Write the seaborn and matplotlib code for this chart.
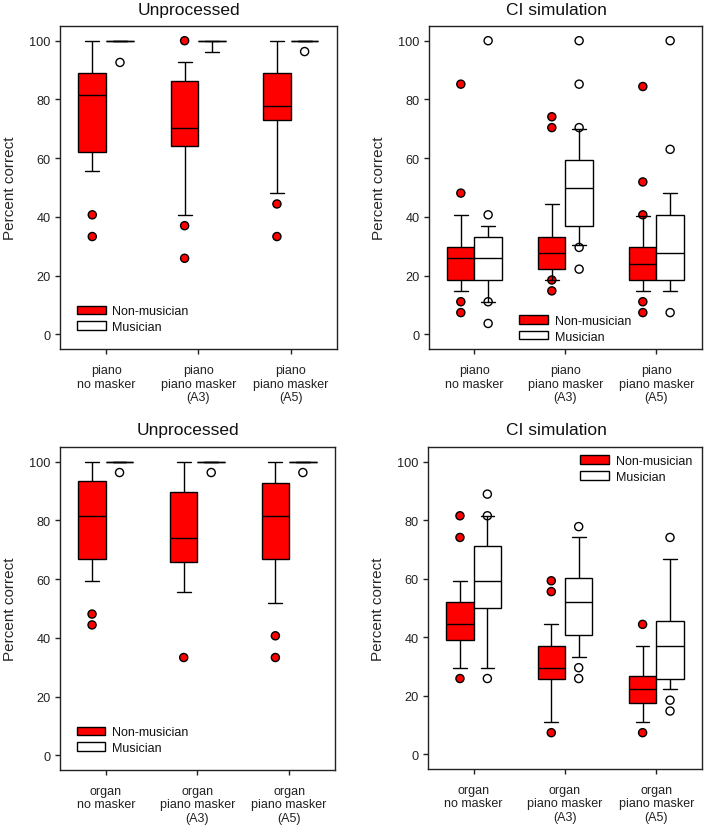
import numpy as np
import pandas as pd
import matplotlib
matplotlib.use("Agg")
import matplotlib.pyplot as plt
from matplotlib.patches import Patch
import seaborn as sns

# ---------------- data ----------------
groups = ["Non-musician", "Musician"]
piano_conditions = ["piano\nno masker", "piano\npiano masker\n(A3)", "piano\npiano masker\n(A5)"]
organ_conditions = ["organ\nno masker", "organ\npiano masker\n(A3)", "organ\npiano masker\n(A5)"]
panel_titles = ["Unprocessed", "CI simulation", "Unprocessed", "CI simulation"]
y_ticks = [0, 20, 40, 60, 80, 100]

# box summaries per condition: [whisker low, Q1, median, Q3, whisker high]
piano_unproc_nm = [[55.6, 62.0, 81.5, 88.9, 100.0],
                   [40.7, 64.0, 70.4, 86.3, 92.6],
                   [48.1, 73.1, 77.8, 88.9, 100.0]]
piano_unproc_m = [[100.0, 100.0, 100.0, 100.0, 100.0],
                  [96.3, 100.0, 100.0, 100.0, 100.0],
                  [100.0, 100.0, 100.0, 100.0, 100.0]]
piano_unproc_nm_out = [[40.7, 33.3], [100.0, 37.0, 25.9], [44.4, 33.3]]
piano_unproc_m_out = [[92.6], [], [96.3]]

piano_ci_nm = [[14.8, 18.5, 25.9, 29.6, 40.7],
               [18.5, 22.2, 27.8, 33.3, 44.4],
               [14.8, 18.5, 24.1, 29.6, 40.3]]
piano_ci_m = [[11.1, 18.5, 25.9, 33.3, 37.0],
              [30.4, 37.0, 50.0, 59.3, 70.0],
              [14.8, 18.5, 27.8, 40.7, 48.1]]
piano_ci_nm_out = [[85.2, 48.1, 11.1, 7.4], [74.1, 70.4, 18.5, 14.8], [84.4, 51.9, 40.7, 11.1, 7.4]]
piano_ci_m_out = [[100.0, 40.7, 11.1, 3.7], [100.0, 85.2, 70.4, 29.6, 22.2], [100.0, 63.0, 7.4]]

organ_unproc_nm = [[59.3, 66.7, 81.5, 93.5, 100.0],
                   [55.6, 65.7, 74.1, 89.8, 100.0],
                   [51.9, 66.7, 81.5, 92.6, 100.0]]
organ_unproc_m = [[100.0, 100.0, 100.0, 100.0, 100.0],
                  [100.0, 100.0, 100.0, 100.0, 100.0],
                  [100.0, 100.0, 100.0, 100.0, 100.0]]
organ_unproc_nm_out = [[48.1, 44.4], [33.3], [40.7, 33.3]]
organ_unproc_m_out = [[96.3], [96.3], [96.3]]

organ_ci_nm = [[29.6, 38.9, 44.4, 51.9, 59.3],
               [11.1, 25.9, 29.6, 37.0, 44.4],
               [11.1, 17.6, 22.2, 26.9, 37.0]]
organ_ci_m = [[29.6, 50.0, 59.3, 71.1, 81.5],
              [33.3, 40.7, 51.9, 60.2, 74.1],
              [22.2, 25.9, 37.0, 45.4, 66.7]]
organ_ci_nm_out = [[81.5, 74.1, 25.9], [59.3, 55.6, 7.4], [44.4, 7.4]]
organ_ci_m_out = [[88.9, 81.5, 25.9], [77.8, 29.6, 25.9], [74.1, 18.5, 14.8]]

# ---------------- style ----------------
sns.set_style("ticks")
plt.rcParams["font.family"] = ["Liberation Sans", "DejaVu Sans"]
plt.rcParams["axes.linewidth"] = 1.0
plt.rcParams["axes.edgecolor"] = "#222222"
plt.rcParams["xtick.major.size"] = 3.6
plt.rcParams["ytick.major.size"] = 3.6
plt.rcParams["xtick.major.width"] = 1.0
plt.rcParams["ytick.major.width"] = 1.0
plt.rcParams["xtick.color"] = "#222222"
plt.rcParams["ytick.color"] = "#222222"
plt.rcParams["text.color"] = "#111111"

palette = {"Non-musician": "#ff0000", "Musician": "#ffffff"}
dodge_offset = {"Non-musician": -0.15, "Musician": 0.15}


def box_frame(nm_box, m_box):
    rows = []
    for i in range(len(nm_box)):
        for g, box in zip(groups, [nm_box, m_box]):
            for v in box[i]:
                rows.append({"pos": i, "group": g, "value": v})
    return pd.DataFrame(rows)


def out_frame(nm_out, m_out):
    rows = []
    for i in range(len(nm_out)):
        for g, outs in zip(groups, [nm_out, m_out]):
            for v in outs[i]:
                rows.append({"xpos": i + dodge_offset[g], "group": g, "value": v})
    return pd.DataFrame(rows)


def draw_panel(ax, conditions, nm_box, m_box, nm_out, m_out, title, loc, anchor):
    bdf = box_frame(nm_box, m_box)
    sns.boxplot(data=bdf, x="pos", y="value", hue="group", hue_order=groups,
                palette=palette, native_scale=True, orient="x", width=0.6, gap=0,
                dodge=True, whis=(0, 100), showfliers=False, saturation=1,
                linecolor="black", linewidth=1.0, legend=False, ax=ax)
    odf = out_frame(nm_out, m_out)
    sns.scatterplot(data=odf, x="xpos", y="value", hue="group", hue_order=groups,
                    palette=palette, s=34, edgecolor="black", linewidth=1.0,
                    legend=False, ax=ax, zorder=1.5)
    ax.set_xlim(-0.5, 2.5)
    ax.set_ylim(-5, 105)
    ax.set_xticks(range(len(conditions)))
    ax.set_xticklabels(conditions, fontsize=9, linespacing=1.2)
    ax.set_yticks(y_ticks)
    ax.set_yticklabels([str(t) for t in y_ticks], fontsize=9.2)
    ax.tick_params(axis="x", pad=7)
    ax.tick_params(axis="y", pad=3)
    ax.set_xlabel("")
    ax.set_ylabel("Percent correct", fontsize=11, labelpad=9)
    ax.set_title(title, fontsize=12.5, x=0.467, pad=9)
    for sp in ax.spines.values():
        sp.set_visible(True)
    handles = [Patch(facecolor=palette[g], edgecolor="black", linewidth=1.0, label=g) for g in groups]
    ax.legend(handles=handles, loc=loc, bbox_to_anchor=anchor, frameon=False,
              fontsize=9, borderpad=0, borderaxespad=0, handlelength=2.3,
              handleheight=0.65, handletextpad=0.55, labelspacing=0.3)


fig = plt.figure(figsize=(7.08, 8.29), dpi=100)
ax_tl = fig.add_axes([0.0847, 0.5778, 0.3912, 0.3896])
ax_tr = fig.add_axes([0.6059, 0.5778, 0.3856, 0.3896])
ax_bl = fig.add_axes([0.0847, 0.0700, 0.3884, 0.3896])
ax_br = fig.add_axes([0.6045, 0.0712, 0.3870, 0.3884])

draw_panel(ax_tl, piano_conditions, piano_unproc_nm, piano_unproc_m,
           piano_unproc_nm_out, piano_unproc_m_out, panel_titles[0], "lower left", (0.061, 0.05))
draw_panel(ax_tr, piano_conditions, piano_ci_nm, piano_ci_m,
           piano_ci_nm_out, piano_ci_m_out, panel_titles[1], "lower left", (0.33, 0.02))
draw_panel(ax_bl, organ_conditions, organ_unproc_nm, organ_unproc_m,
           organ_unproc_nm_out, organ_unproc_m_out, panel_titles[2], "lower left", (0.061, 0.05))
draw_panel(ax_br, organ_conditions, organ_ci_nm, organ_ci_m,
           organ_ci_nm_out, organ_ci_m_out, panel_titles[3], "upper left", (0.555, 0.975))

fig.savefig("out.png", dpi=100)
